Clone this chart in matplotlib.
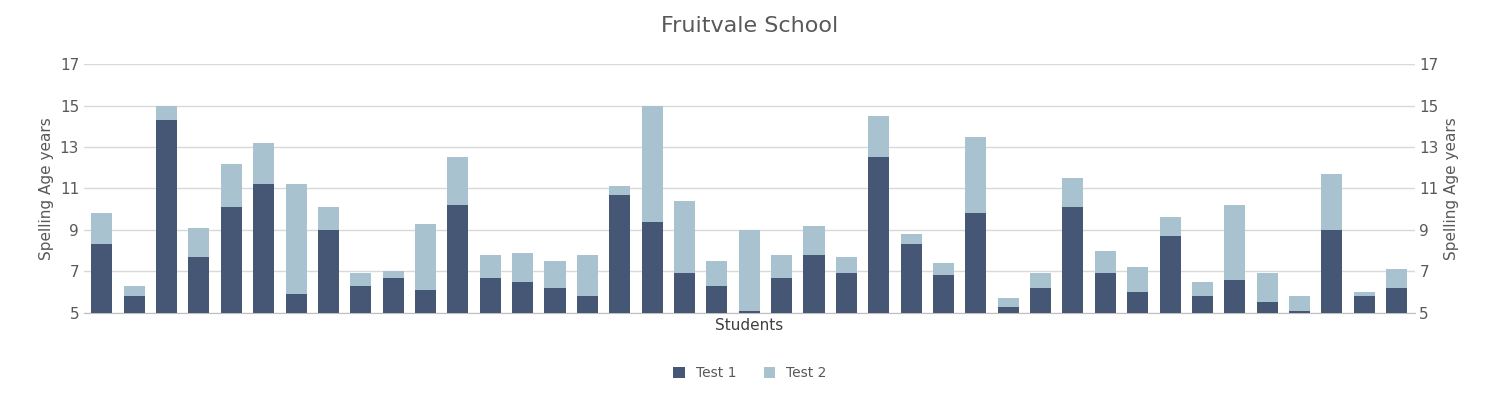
import matplotlib.pyplot as plt
import numpy as np

test1 = [8.3,5.8,14.3,7.7,10.1,11.2,5.9,9.0,6.3,6.7,6.1,10.2,6.7,6.5,6.2,5.8,10.7,9.4,6.9,6.3,5.1,6.7,7.8,6.9,12.5,8.3,6.8,9.8,5.3,6.2,10.1,6.9,6.0,8.7,5.8,6.6,5.5,5.1,9.0,5.8,6.2]
test2 = [9.8,6.3,15.0,9.1,12.2,13.2,11.2,10.1,6.9,7.0,9.3,12.5,7.8,7.9,7.5,7.8,11.1,15.0,10.4,7.5,9.0,7.8,9.2,7.7,14.5,8.8,7.4,13.5,5.7,6.9,11.5,8.0,7.2,9.6,6.5,10.2,6.9,5.8,11.7,6.0,7.1]
yticks = [5,7,9,11,13,15,17]
base = 5

fig = plt.figure(figsize=(15,4.01), dpi=100)
ax = fig.add_axes([0.056, 0.22, 0.887, 0.62])
x = np.arange(len(test1))
ax.bar(x, np.array(test2)-base, bottom=base, width=0.65, color='#a8c2d0', label='Test 2', zorder=2)
ax.bar(x, np.array(test1)-base, bottom=base, width=0.65, color='#465775', label='Test 1', zorder=3)
ax.set_xlim(-0.55, len(x)-0.45)
ax.set_ylim(5,17)
ax.set_yticks(yticks)
ax.grid(axis='y', color='#d9d9d9', lw=1, zorder=0)
for s in ['top','left','right']:
    ax.spines[s].set_visible(False)
ax.spines['bottom'].set_color('#bfbfbf')
ax.set_xticks([])
ax.tick_params(axis='y', length=0, labelcolor='#595959', labelsize=11)
ax.set_ylabel('Spelling Age years', color='#595959', fontsize=11)
ax.set_xlabel('Students', color='#404040', fontsize=11, labelpad=4)
ax2 = ax.twinx()
ax2.set_ylim(5,17)
ax2.set_yticks(yticks)
for s in ['top','left','right','bottom']:
    ax2.spines[s].set_visible(False)
ax2.tick_params(axis='y', length=0, labelcolor='#595959', labelsize=11)
ax2.set_ylabel('Spelling Age years', color='#595959', fontsize=11)
fig.suptitle('Fruitvale School', y=0.96, fontsize=16, color='#595959')
h, l = ax.get_legend_handles_labels()
fig.legend(h[::-1], l[::-1], loc='lower center', ncol=2, frameon=False, bbox_to_anchor=(0.5, 0.02),
           fontsize=10, handlelength=0.8, handleheight=0.8, labelcolor='#595959')
fig.savefig('out.png')
